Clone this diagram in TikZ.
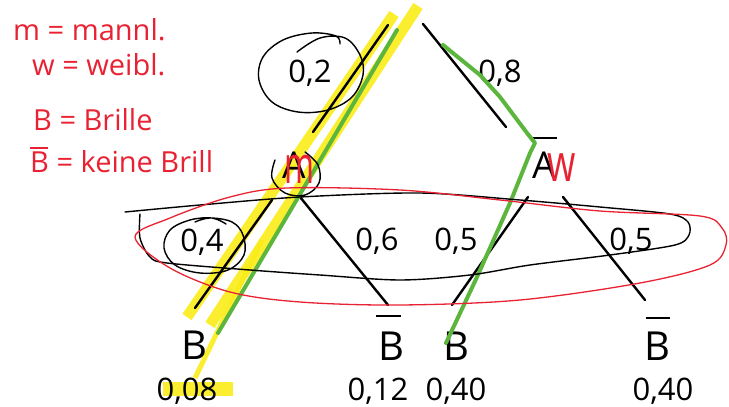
\documentclass[tikz,border=0pt]{standalone}
\usepackage{fontspec}
\setmainfont{Open Sans}
\definecolor{penred}{RGB}{232,34,50}
\definecolor{pengreen}{RGB}{92,182,62}
\definecolor{penyellow}{RGB}{250,236,24}
\newcommand{\strichB}{\leavevmode\rlap{\raisebox{0.8em}{\rule{0.6em}{0.05em}}}B}

\begin{document}
\begin{tikzpicture}[x=1pt, y=-1pt,
  branch/.style={line width=2.4pt, line cap=round},
  prob/.style={font=\fontsize{31}{34}\selectfont, anchor=base, inner sep=0pt},
  event/.style={font=\fontsize{40}{44}\selectfont, anchor=base, inner sep=0pt},
  barline/.style={line width=2.2pt},
  inkblack/.style={line width=1.4pt, line cap=round, line join=round},
  inkred/.style={line width=1.3pt, penred, line cap=round, line join=round},
  inkgreen/.style={line width=4pt, pengreen, line cap=round, line join=round},
  marker/.style={line width=11pt, penyellow, opacity=0.9},
  note/.style={font=\fontsize{29}{32}\selectfont, text=penred, anchor=base west, inner sep=0pt}
]
\useasboundingbox (0,0) rectangle (729,407);
% Highlighter strokes
\draw[marker] (394,14) -- (187,317);
\draw[marker] (418,6) -- (210,325);
\draw[marker, line width=5pt] (262,240) -- (195,378);
\draw[marker, line width=14pt] (163,389) -- (233,389);
% Tree nodes
\coordinate (root) at (404,0);
\node[event, font=\fontsize{37}{40}\selectfont] (A) at (294,178) {A};
\node[event, font=\fontsize{37}{40}\selectfont] (nA) at (544,178) {A};
\node[event] (b1) at (194,359) {B};
\node[event] (b2) at (391,360) {B};
\node[event] (b3) at (456,360) {B};
\node[event] (b4) at (657,360) {B};
% Bars
\draw[barline] ([shift={(-11,-40)}]nA.base) -- ([shift={(13,-40)}]nA.base);
\draw[barline] ([shift={(-15,-44)}]b2.base) -- ([shift={(10,-44)}]b2.base);
\draw[barline] ([shift={(-11,-42)}]b4.base) -- ([shift={(13,-42)}]b4.base);
% Branches
\draw[branch] ([shift={(-16,25)}]root) -- ([shift={(19,-46)}]A.base);
\draw[branch] ([shift={(19,24)}]root) -- ([shift={(-38,-51)}]nA.base);
\draw[branch] ([shift={(-22,22)}]A.base) -- ([shift={(1,-51)}]b1.base);
\draw[branch] ([shift={(6,19)}]A.base) -- ([shift={(-3,-55)}]b2.base);
\draw[branch] ([shift={(-16,19)}]nA.base) -- ([shift={(-4,-55)}]b3.base);
\draw[branch] ([shift={(19,19)}]nA.base) -- ([shift={(-12,-60)}]b4.base);
% Branch probabilities
\node[prob] (pA) at (310,82) {0,2};
\node[prob] (pnA) at (500,82) {0,8};
\node[prob] (pAB) at (202,251) {0,4};
\node[prob] (pAnB) at (377,250) {0,6};
\node[prob] (pnAB) at (456,250) {0,5};
\node[prob] (pnAnB) at (631,250) {0,5};
% Path probabilities
\node[prob] (r1) at (187,400) {0,08};
\node[prob] (r2) at (378,400) {0,12};
\node[prob] (r3) at (456,400) {0,40};
\node[prob] (r4) at (663,400) {0,40};
% Green pen
\draw[inkgreen] (397,30) -- (218,333);
\draw[inkgreen] (443,45) -- (480,75) -- (500,97) -- (527,133) -- (535,143) -- (530,153) -- (510,203) -- (477,277) -- (446,343);
% Black pen loops
\draw[inkblack] plot[smooth, tension=0.6] coordinates {(297,52) (320,38) (345,38) (360,55) (363,75) (352,97) (328,110) (298,112) (272,102) (259,80) (263,57) (283,40) (312,33) (336,36) (340,44)};
\draw[inkblack] plot[smooth, tension=0.6] coordinates {(305,152) (318,165) (319,183) (305,195) (285,193) (272,178) (275,160)};
\draw[inkblack] plot[smooth, tension=0.6] coordinates {(226,224) (212,218) (190,220) (170,230) (164,248) (175,265) (200,273) (228,270) (244,255) (243,235) (232,222) (210,218) (195,222)};
\draw[inkblack] plot[smooth, tension=0.5] coordinates {(125,212) (200,205) (300,197) (420,193) (520,200) (600,207) (670,214) (688,222) (689,235) (675,245) (610,255) (530,265) (470,275) (400,280) (320,275) (250,270) (167,263) (150,257) (140,238) (140,214)};
% Red pen loop
\draw[inkred] plot[smooth cycle, tension=0.55] coordinates {(135,237) (170,218) (230,197) (287,188) (400,190) (500,200) (600,211) (700,216) (722,228) (726,245) (710,265) (640,283) (520,300) (400,305) (300,302) (230,292) (170,268)};
% Red pen notes
\node[note, font=\fontsize{52}{56}\selectfont, anchor=base, xscale=0.62] (mA) at (299,183) {m};
\node[note, font=\fontsize{52}{56}\selectfont, anchor=base, xscale=0.7] (wA) at (562,181) {w};
\node[note] (n1) at (13,40) {m = mannl.};
\node[note] (n2) at (32,75) {w = weibl.};
\node[note] (n3) at (33,130) {B = Brille};
\node[note] (n4) at (30,172) {\strichB{} = keine Brill};
\end{tikzpicture}
\end{document}
